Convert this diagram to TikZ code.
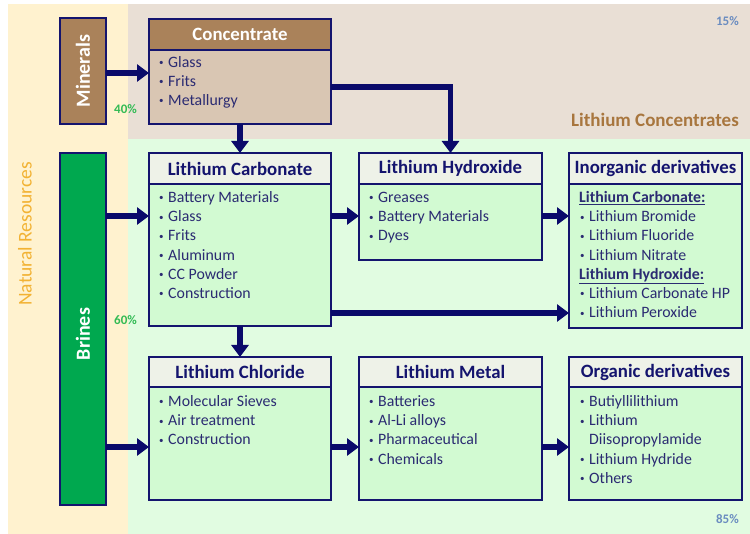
\documentclass[tikz,border=0pt]{standalone}
\usepackage{fontspec}
\setmainfont{Carlito}
\usetikzlibrary{arrows.meta}
\definecolor{navy}{HTML}{14146E}
\definecolor{arrowc}{HTML}{0A0A6A}
\definecolor{cream}{HTML}{FFF2CF}
\definecolor{beige}{HTML}{E9DFD5}
\definecolor{mint}{HTML}{E1FCE1}
\definecolor{bodyg}{HTML}{D2FAD2}
\definecolor{hdrg}{HTML}{EEF2E8}
\definecolor{brownh}{HTML}{AA825A}
\definecolor{brownb}{HTML}{D9C6B3}
\definecolor{brinesg}{HTML}{00A84F}
\definecolor{gold}{HTML}{F2B233}
\definecolor{pctg}{HTML}{33BB55}
\definecolor{pctb}{HTML}{6A8CC0}
\definecolor{concbr}{HTML}{A8763E}
\definecolor{itemc}{HTML}{2B2B72}
\tikzset{
  frame/.style={draw=navy, line width=2.5pt, anchor=north west, inner sep=0pt, outer sep=0pt},
  hdr/.style={frame, font=\fontsize{18.8}{22}\selectfont\bfseries, text=navy, fill=hdrg},
  item/.style={anchor=base west, inner sep=0pt, font=\fontsize{15.85}{18}\selectfont, text=itemc},
  arr/.style={draw=arrowc, line width=5.5pt, -{Triangle[length=12pt,width=17pt]}},
  pct/.style={font=\fontsize{13}{14}\selectfont\bfseries, inner sep=0pt},
  vlbl/.style={rotate=90, font=\fontsize{20}{22}\selectfont\bfseries, text=white, inner sep=0pt},
}
\newcommand\bul{\makebox[9pt][l]{\fontsize{9}{9}\selectfont\raisebox{1.5pt}{•}}}
\begin{document}
\begin{tikzpicture}[x=1pt,y=-1pt]
\useasboundingbox (0,0) rectangle (750,534);
% backgrounds
\fill[white] (0,0) rectangle (750,534);
\fill[cream] (8,4) rectangle (128,534);
\fill[beige] (128,4) rectangle (750,139);
\fill[mint] (128,139) rectangle (750,534);
% region labels
\node[rotate=90, font=\fontsize{19.5}{22}\selectfont, text=gold, inner sep=0pt] (natres) at (25,234) {Natural Resources};
\node[font=\fontsize{19}{22}\selectfont\bfseries, text=concbr, anchor=east, inner sep=0pt] (lcon) at (739,120) {Lithium Concentrates};
\node[pct, text=pctb, anchor=east] (p15) at (739,21) {15\%};
\node[pct, text=pctb, anchor=east] (p85) at (739,519) {85\%};
\node[pct, text=pctg] (p40) at (125.5,109) {40\%};
\node[pct, text=pctg] (p60) at (125.5,320) {60\%};
% sources
\node[frame, fill=brownh, minimum width=46pt, minimum height=106pt] (minerals) at (60,18) {};
\node[vlbl] (minlbl) at (minerals.center) {Minerals};
\node[frame, fill=brinesg, minimum width=46pt, minimum height=352pt] (brines) at (60,153) {};
\node[vlbl] (brilbl) at ([yshift=-5pt]brines.center) {Brines};
% Concentrate
\node[frame, fill=brownb, minimum width=182pt, minimum height=105pt] (conc) at (149,19) {};
\node[hdr, fill=brownh, text=white, minimum width=182pt, minimum height=31pt] (conch) at (conc.north west) {Concentrate};
\foreach \t [count=\i from 0] in {Glass,Frits,Metallurgy}
  \node[item] (conc-\i) at (159,{67.5+19*\i}) {\bul\t};
% Lithium Carbonate
\node[frame, fill=bodyg, minimum width=182pt, minimum height=173pt] (lc) at (149,153) {};
\node[hdr, minimum width=182pt, minimum height=31pt] (lch) at (lc.north west) {Lithium Carbonate};
\foreach \t [count=\i from 0] in {Battery Materials,Glass,Frits,Aluminum,CC Powder,Construction}
  \node[item] (lc-\i) at (159,{202.5+19.2*\i}) {\bul\t};
% Lithium Hydroxide
\node[frame, fill=bodyg, minimum width=183pt, minimum height=107pt] (lh) at (359,153) {};
\node[hdr, minimum width=183pt, minimum height=31pt] (lhh) at (lh.north west) {Lithium Hydroxide};
\foreach \t [count=\i from 0] in {Greases,Battery Materials,Dyes}
  \node[item] (lh-\i) at (369,{202.5+19.2*\i}) {\bul\t};
% Inorganic derivatives
\node[frame, fill=bodyg, minimum width=173pt, minimum height=175pt] (inorg) at (569,153) {};
\node[hdr, minimum width=173pt, minimum height=31pt] (inorgh) at (inorg.north west) {Inorganic derivatives};
\node[item, font=\fontsize{15.85}{18}\selectfont\bfseries] (inorg-0) at (579,202.5) {\underline{Lithium Carbonate:}};
\node[item] (inorg-1) at (580,221.7) {\bul Lithium Bromide};
\node[item] (inorg-2) at (580,240.9) {\bul Lithium Fluoride};
\node[item] (inorg-3) at (580,260.1) {\bul Lithium Nitrate};
\node[item, font=\fontsize{15.85}{18}\selectfont\bfseries] (inorg-4) at (579,279.3) {\underline{Lithium Hydroxide:}};
\node[item] (inorg-5) at (580,298.5) {\bul Lithium Carbonate HP};
\node[item] (inorg-6) at (580,317.7) {\bul Lithium Peroxide};
% Lithium Chloride
\node[frame, fill=bodyg, minimum width=182pt, minimum height=143pt] (lcl) at (149,357) {};
\node[hdr, minimum width=182pt, minimum height=30pt] (lclh) at (lcl.north west) {Lithium Chloride};
\foreach \t [count=\i from 0] in {Molecular Sieves,Air treatment,Construction}
  \node[item] (lcl-\i) at (159,{406.5+19.2*\i}) {\bul\t};
% Lithium Metal
\node[frame, fill=bodyg, minimum width=183pt, minimum height=143pt] (lm) at (359,357) {};
\node[hdr, minimum width=183pt, minimum height=30pt] (lmh) at (lm.north west) {Lithium Metal};
\foreach \t [count=\i from 0] in {Batteries,Al-Li alloys,Pharmaceutical,Chemicals}
  \node[item] (lm-\i) at (369,{406.5+19.2*\i}) {\bul\t};
% Organic derivatives
\node[frame, fill=bodyg, minimum width=173pt, minimum height=143pt] (org) at (569,357) {};
\node[hdr, minimum width=173pt, minimum height=30pt] (orgh) at (org.north west) {Organic derivatives};
\node[item] (org-0) at (580,406.5) {\bul Butiyllilithium};
\node[item] (org-1) at (580,425.7) {\bul Lithium};
\node[item] (org-2) at (589,444.9) {Diisopropylamide};
\node[item] (org-3) at (580,464.1) {\bul Lithium Hydride};
\node[item] (org-4) at (580,483.3) {\bul Others};
% connectors
\draw[arr] (minerals.east |- 0,73) -- (conc.west |- 0,73);
\draw[arr] (conc.south) -- (lch.north);
\draw[arr] (conc.east |- 0,87) -| (lhh.north);
\draw[arr] (brines.east |- 0,216) -- (lc.west |- 0,216);
\draw[arr] (lc.east |- 0,216) -- (lh.west |- 0,216);
\draw[arr] (lh.east |- 0,216) -- (inorg.west |- 0,216);
\draw[arr] (lc.east |- 0,313) -- (inorg.west |- 0,313);
\draw[arr] (lc.south) -- (lclh.north);
\draw[arr] (brines.east |- 0,447) -- (lcl.west |- 0,447);
\draw[arr] (lcl.east |- 0,447) -- (lm.west |- 0,447);
\draw[arr] (lm.east |- 0,447) -- (org.west |- 0,447);
\end{tikzpicture}
\end{document}
